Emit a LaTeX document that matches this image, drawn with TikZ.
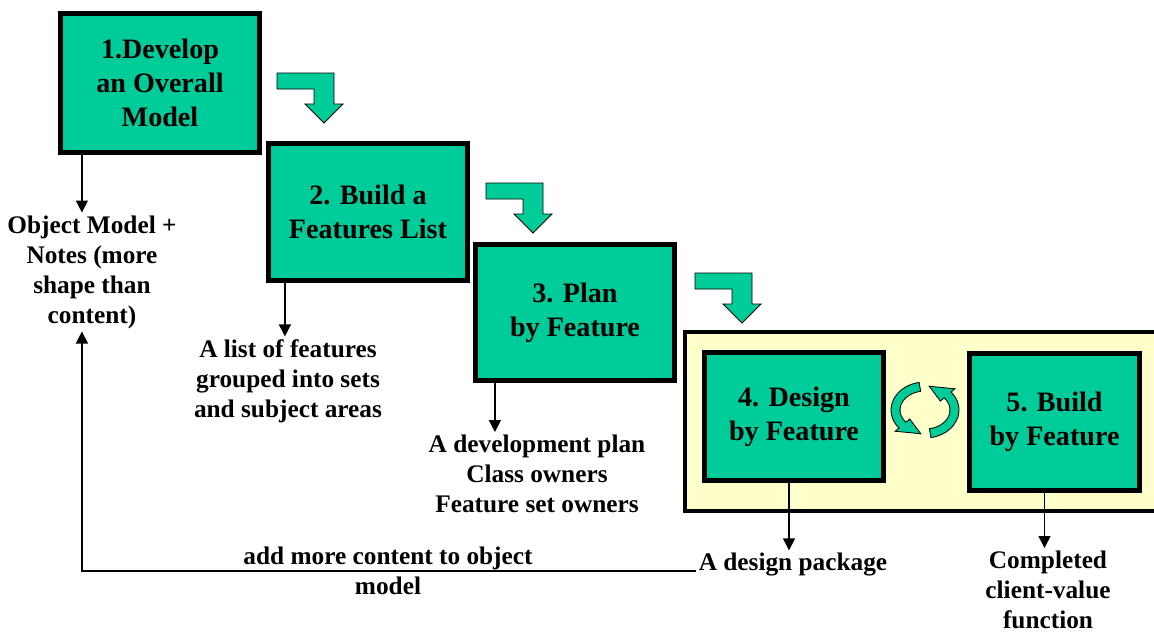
\documentclass[tikz,border=0pt]{standalone}
\usepackage{fontspec}
\setmainfont{Liberation Serif}
\usetikzlibrary{arrows.meta, calc}
\definecolor{fddgreen}{HTML}{00CC99}
\definecolor{fddyellow}{HTML}{FFFFCC}

% bent "next step" arrow, origin at its top left corner
\tikzset{
  bendarrow/.pic={
    \path[draw=black, line width=0.6pt, fill=fddgreen]
      (0,0) -- (57,0) -- (57,31) -- (66,31) -- (47,50) -- (28,31)
      -- (37,31) -- (37,16) -- (0,16) -- cycle;
  }
}

\begin{document}
\begin{tikzpicture}[
  x=0.025cm, y=-0.025cm,
  every node/.style={font=\bfseries},
  stepbox/.style={rectangle, draw=black, line width=3.5pt, fill=fddgreen, align=center, inner sep=2pt, font=\fontsize{20}{24.1}\selectfont\bfseries},
  outtext/.style={align=center, inner sep=2pt, font=\fontsize{18}{21.3}\selectfont\bfseries},
  iterframe/.style={draw=black, line width=3.5pt, fill=fddyellow},
  flow/.style={draw=black, line width=1pt, -{Triangle[length=0.3cm, width=0.3cm]}},
  cyclearrow/.style={draw=black, line width=0.6pt, fill=fddgreen},
]
\useasboundingbox (0,0) rectangle (1154,632);

% iteration frame around steps 4 and 5
\draw[iterframe] (685,332) rectangle (1190,511);

% the five process steps
\node[stepbox, minimum width=4.98cm, minimum height=3.48cm] (dev) at (160,83) {1.Develop\\an Overall\\Model};
\node[stepbox, minimum width=4.98cm, minimum height=3.43cm] (feat) at (368,212) {2. Build a\\Features List};
\node[stepbox, minimum width=4.98cm, minimum height=3.40cm] (plan) at (575,312.5) {3. Plan\\by Feature};
\node[stepbox, minimum width=4.48cm, minimum height=3.20cm] (design) at (794,416.5) {4. Design\\by Feature};
\node[stepbox, minimum width=4.25cm, minimum height=3.43cm] (build) at (1054.5,422) {5. Build\\by Feature};

% bent arrows between the steps
\pic at (277,73) {bendarrow};
\pic at (486,183) {bendarrow};
\pic at (695,273) {bendarrow};

% design/build cycle
\begin{scope}[shift={(925,410)}, yscale=-1]
  \path[cyclearrow] (100:34 and 28) arc[start angle=100, end angle=220, x radius=34, y radius=28]
    -- (220:39 and 33) -- (262:30 and 24) -- (220:20 and 14) -- (220:25 and 19)
    arc[start angle=220, end angle=100, x radius=25, y radius=19] -- cycle;
  \path[cyclearrow] (280:34 and 28) arc[start angle=280, end angle=400, x radius=34, y radius=28]
    -- (40:39 and 33) -- (82:30 and 24) -- (40:20 and 14) -- (40:25 and 19)
    arc[start angle=400, end angle=280, x radius=25, y radius=19] -- cycle;
\end{scope}

% outputs
\node[outtext] (outModel) at (92,272) {Object Model +\\Notes (more\\shape than\\content)};
\node[outtext] (outList) at (288,381) {A list of features\\grouped into sets\\and subject areas};
\node[outtext] (outPlan) at (537,474) {A development plan\\Class owners\\Feature set owners};
\node[outtext] (outDesign) at (793,565) {A design package};
\node[outtext] (outBuild) at (1048,590) {Completed\\client-value\\function};
\node[outtext] (feedText) at (388,571) {add more content to object\\model};

\coordinate (modelFoot) at ($(dev.south west)+(24,0)$);
\coordinate (listFoot) at ($(feat.south west)+(19,0)$);
\coordinate (planFoot) at ($(plan.south west)+(22,0)$);
\coordinate (designFoot) at ($(design.south)+(-5,0)$);
\coordinate (buildFoot) at ($(build.south)+(-10,0)$);

\draw[flow] (modelFoot) -- (modelFoot |- outModel.north);
\draw[flow] (listFoot) -- (listFoot |- outList.north);
\draw[flow] (planFoot) -- (planFoot |- outPlan.north);
\draw[flow] (designFoot) -- (designFoot |- outDesign.north);
\draw[flow] (buildFoot) -- (buildFoot |- outBuild.north);

% feedback into the object model
\coordinate (loopStart) at (outDesign.west |- feedText.center);
\draw[flow] (loopStart) -| (modelFoot |- outModel.south);

\end{tikzpicture}
\end{document}
